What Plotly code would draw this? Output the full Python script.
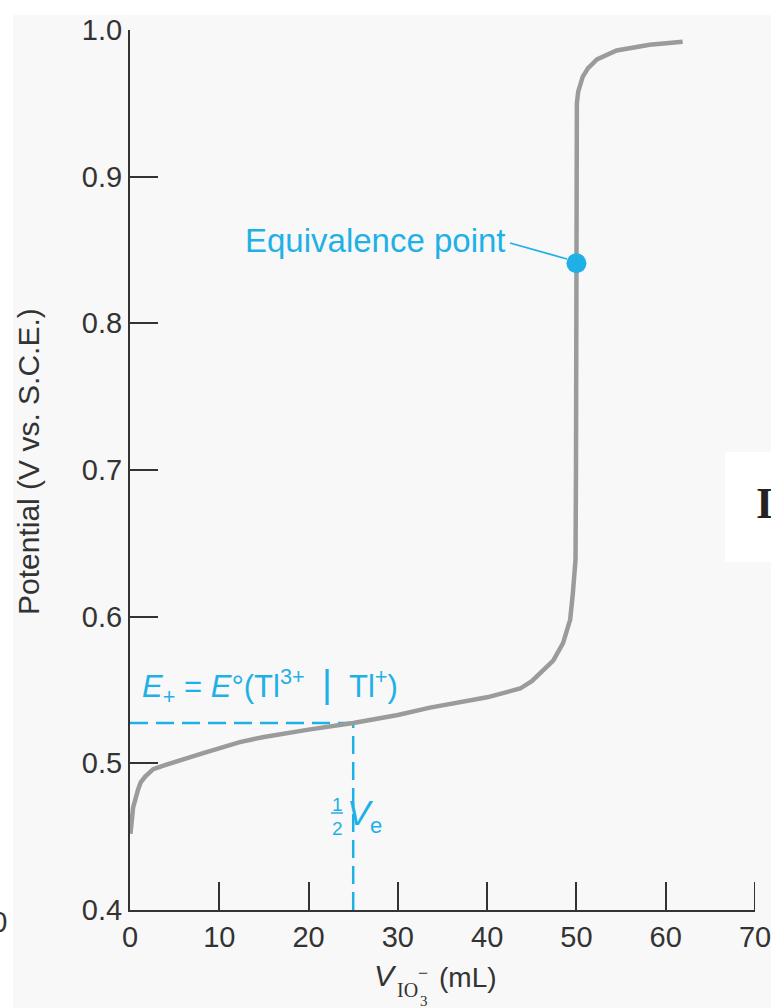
import plotly.graph_objects as go

# ---- data ----
volume_ml = [0.05, 0.1, 0.2, 0.35, 0.9, 1.2, 1.7, 2.6, 3.5, 4.5, 6.0, 8.2, 12.3, 15.0,
             20.0, 25.0, 30.0, 33.6, 40.0, 43.7, 45.0, 47.4, 48.5, 49.3, 49.6, 49.9,
             49.95, 50.0, 50.0, 49.98, 50.05, 50.2, 50.7, 51.3, 52.3, 54.5, 58.2, 61.9]
potential_v = [0.452, 0.455, 0.463, 0.470, 0.482, 0.487, 0.491, 0.496, 0.498, 0.500, 0.503,
               0.507, 0.5145, 0.518, 0.523, 0.5275, 0.533, 0.538, 0.545, 0.551, 0.556,
               0.570, 0.582, 0.598, 0.616, 0.639, 0.70, 0.841, 0.90, 0.925, 0.950, 0.958,
               0.968, 0.974, 0.980, 0.986, 0.990, 0.992]
x_ticks = [0, 10, 20, 30, 40, 50, 60, 70]
x_tick_labels = ["0", "10", "20", "30", "40", "50", "60", "70"]
y_ticks = [0.4, 0.5, 0.6, 0.7, 0.8, 0.9, 1.0]
y_tick_labels = ["0.4", "0.5", "0.6", "0.7", "0.8", "0.9", "1.0"]
equiv_volume = 50.0
equiv_potential = 0.841
half_volume = 25.0
e_plus = 0.5275

# ---- geometry helpers (pixel -> paper) ----
W, H = 771, 1008
L, R, T, B = 130, 16, 30, 98
PW, PH = W - L - R, H - T - B


def px(x):
    return (x - L) / PW


def py(y):
    return (H - B - y) / PH


CYAN = "#1fb1e6"
GRAY = "#9b9b9b"
INK = "#333333"
SANS = "Liberation Sans, Arial, sans-serif"
SERIF = "Liberation Serif, Times New Roman, serif"

fig = go.Figure()

fig.add_trace(go.Scatter(x=volume_ml, y=potential_v, mode="lines",
                         line=dict(color=GRAY, width=4.5), hoverinfo="skip",
                         showlegend=False))
fig.add_trace(go.Scatter(x=[equiv_volume], y=[equiv_potential], mode="markers",
                         marker=dict(color=CYAN, size=20), showlegend=False,
                         cliponaxis=False))

shapes = [
    # background white strips of the scanned page
    dict(type="rect", xref="paper", yref="paper", x0=px(-10), x1=px(W + 10),
         y0=py(15), y1=py(-10), fillcolor="white", line_width=0, layer="below"),
    dict(type="rect", xref="paper", yref="paper", x0=px(-10), x1=px(13),
         y0=py(H + 10), y1=py(-10), fillcolor="white", line_width=0, layer="below"),
    dict(type="rect", xref="paper", yref="paper", x0=px(725), x1=px(W + 10),
         y0=py(562), y1=py(452), fillcolor="white", line_width=0, layer="below"),
    # dashed guide lines
    dict(type="line", xref="x", yref="y", x0=0, x1=half_volume, y0=e_plus, y1=e_plus,
         line=dict(color=CYAN, width=2.5, dash="18px,8px"), layer="below"),
    dict(type="line", xref="x", yref="y", x0=half_volume, x1=half_volume, y0=0.4, y1=e_plus,
         line=dict(color=CYAN, width=2.5, dash="18px,8px"), layer="below"),
    # end tick at the last x tick (hidden by plotly at the axis edge)
    dict(type="line", xref="x", yref="paper", x0=x_ticks[-1], x1=x_ticks[-1],
         y0=0, y1=28 / PH, line=dict(color=INK, width=2)),
    # leader line to equivalence point
    dict(type="line", xref="paper", yref="paper", x0=px(510), y0=py(243), x1=px(567), y1=py(259),
         line=dict(color=CYAN, width=1.8)),
    # fraction bar of 1/2
    dict(type="line", xref="paper", yref="paper", x0=px(331), y0=py(813), x1=px(343), y1=py(813),
         line=dict(color=CYAN, width=1.5)),
]

ann = [
    dict(text="Equivalence point", x=px(508), y=py(240), xanchor="right", yanchor="middle",
         font=dict(family=SANS, size=33, color=CYAN)),
    dict(text="<i>E</i><sub>+</sub> = <i>E</i>°(Tl<sup>3+</sup>&nbsp;&nbsp;"
              "<span style='font-size:38px'>|</span>&nbsp;&nbsp;Tl<sup>+</sup>)",
         x=px(140), y=py(686), xanchor="left", yanchor="middle",
         font=dict(family=SANS, size=31, color=CYAN)),
    dict(text="1", x=px(337), y=py(804), xanchor="center", yanchor="middle",
         font=dict(family=SANS, size=19, color=CYAN)),
    dict(text="2", x=px(337.5), y=py(828), xanchor="center", yanchor="middle",
         font=dict(family=SANS, size=19, color=CYAN)),
    dict(text="<i>V</i>", x=px(360), y=py(812), xanchor="center", yanchor="middle",
         font=dict(family=SANS, size=35, color=CYAN)),
    dict(text="e", x=px(376), y=py(825), xanchor="center", yanchor="middle",
         font=dict(family=SANS, size=22, color=CYAN)),
    # axis titles
    dict(text="Potential (V vs. S.C.E.)", x=px(28), y=py(461), textangle=-90,
         xanchor="center", yanchor="middle", font=dict(family=SANS, size=30, color=INK)),
    dict(text="<i>V</i>", x=px(385), y=py(975), xanchor="center", yanchor="middle",
         font=dict(family=SANS, size=30, color=INK)),
    dict(text="IO", x=px(407), y=py(990), xanchor="center", yanchor="middle",
         font=dict(family=SERIF, size=20, color=INK)),
    dict(text="3", x=px(424), y=py(1001), xanchor="center", yanchor="middle",
         font=dict(family=SERIF, size=15, color=INK)),
    dict(text="−", x=px(423), y=py(973), xanchor="center", yanchor="middle",
         font=dict(family=SERIF, size=18, color=INK)),
    dict(text="(mL)", x=px(437), y=py(977), xanchor="left", yanchor="middle",
         font=dict(family=SANS, size=28, color=INK)),
    # fragments of neighbouring page content
    dict(text="<b>IO</b>", x=px(754), y=py(504), xanchor="left", yanchor="middle",
         font=dict(family=SERIF, size=44, color="#222222")),
    dict(text="70", x=px(9), y=py(922), xanchor="right", yanchor="middle",
         font=dict(family=SANS, size=29, color=INK)),
]
for a in ann:
    a.setdefault("xref", "paper")
    a.setdefault("yref", "paper")
    a["showarrow"] = False

fig.update_layout(
    width=W, height=H,
    margin=dict(l=L, r=R, t=T, b=B, pad=0),
    paper_bgcolor="#f8f8f8", plot_bgcolor="rgba(0,0,0,0)",
    shapes=shapes, annotations=ann, showlegend=False,
    xaxis=dict(range=[0, 70.0001], tickvals=x_ticks, ticktext=x_tick_labels,
               ticks="inside", ticklen=28, tickwidth=2, ticklabeloverflow="allow",
               tickcolor=INK, showline=True, linecolor=INK, linewidth=2, showgrid=False,
               zeroline=False, automargin=False,
               tickfont=dict(family=SANS, size=29, color=INK)),
    yaxis=dict(range=[0.4, 1.0], tickvals=y_ticks, ticktext=y_tick_labels, ticks="inside",
               ticklen=28, tickwidth=2, tickcolor=INK, showline=True, linecolor=INK,
               linewidth=2, showgrid=False, zeroline=False, automargin=False,
               tickfont=dict(family=SANS, size=29, color=INK)),
)

fig.write_html("out.html", config={"displayModeBar": False},
               post_script="document.body.style.margin='0';document.body.style.padding='0';"
                           "document.body.style.overflow='hidden';")
